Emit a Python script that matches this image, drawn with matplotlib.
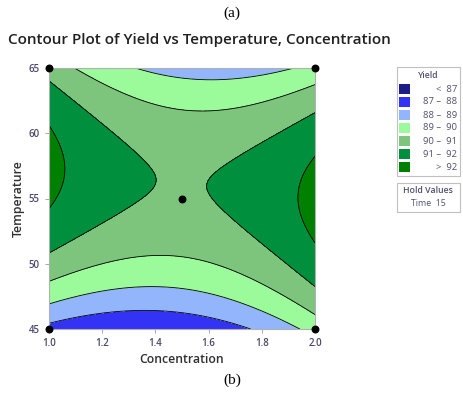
import numpy as np
import matplotlib
matplotlib.use("Agg")
import matplotlib.pyplot as plt
from matplotlib.patches import Rectangle

plt.rcParams['font.family'] = ['Open Sans', 'DejaVu Sans']

# fitted quadratic response surface (coded units)
b0, b1, b2 = 90.91, 0.10, 0.70
b11, b22, b12 = 1.32, -3.0, -0.75

conc_range = [1.0, 2.0]
temp_range = [45, 65]
levels = [80, 87, 88, 89, 90, 91, 92, 100]
colors = ['#1c1c86', '#3333f5', '#93b5fb', '#9bfb9b', '#7dc47d', '#008f3d', '#008000']
labels = ['<  87', '87 \u2013  88', '88 \u2013  89', '89 \u2013  90', '90 \u2013  91', '91 \u2013  92', '>  92']
design_conc = [1.0, 1.0, 2.0, 2.0, 1.5]
design_temp = [45, 65, 45, 65, 55]
hold_time = 15

C = np.linspace(conc_range[0], conc_range[1], 300)
T = np.linspace(temp_range[0], temp_range[1], 300)
CC, TT = np.meshgrid(C, T)
x = (CC - 1.5) / 0.5
t = (TT - 55) / 10.0
Y = b0 + b1 * x + b2 * t + b11 * x**2 + b22 * t**2 + b12 * x * t

fig = plt.figure(figsize=(4.64, 3.93), dpi=100)
ax = fig.add_axes([49 / 464, 1 - 329 / 393, 266 / 464, 261 / 393])
ax.contourf(CC, TT, Y, levels=levels, colors=colors)
ax.contour(CC, TT, Y, levels=levels[1:-1], colors='black', linewidths=0.6)
ax.scatter(design_conc, design_temp, s=22, color='black', zorder=5, clip_on=False)

ax.set_xlim(conc_range)
ax.set_ylim(temp_range)
ax.set_xticks([1.0, 1.2, 1.4, 1.6, 1.8, 2.0])
ax.set_yticks([45, 50, 55, 60, 65])
tick_col = '#4a4a6a'
ax.tick_params(labelsize=7, colors='#999999', labelcolor=tick_col, length=3, width=0.6)
for lab in ax.get_xticklabels() + ax.get_yticklabels():
    lab.set_fontweight('semibold')
for s in ax.spines.values():
    s.set_color('#b0b0b0')
    s.set_linewidth(0.8)
ax.set_xlabel('Concentration', fontsize=8.8, fontweight='semibold', color='#303030', labelpad=3)
ax.set_ylabel('Temperature', fontsize=8.8, fontweight='semibold', color='#303030', labelpad=3)

fig.text(232 / 464, 1 - 13 / 393, '(a)', family='Liberation Serif', fontsize=11, ha='center', va='center')
fig.text(232 / 464, 1 - 380 / 393, '(b)', family='Liberation Serif', fontsize=11, ha='center', va='center')
fig.text(8 / 464, 1 - 40 / 393, 'Contour Plot of Yield vs Temperature, Concentration',
         fontsize=11, fontweight='semibold', color='#202020', ha='left', va='center')

# legend box
W, H = 464, 393
def fx(px):
    return px / W
def fy(py):
    return 1 - py / H

fig.patches.append(Rectangle((fx(397), fy(176)), 63 / W, 109 / H, transform=fig.transFigure,
                             facecolor='white', edgecolor='#c0c0c0', linewidth=0.8))
fig.text(fx(428), fy(75), 'Yield', fontsize=6.3, fontweight='semibold', color='#505070', ha='center', va='center')
for i, (c, lab) in enumerate(zip(colors, labels)):
    yc = 89 + i * 13
    fig.patches.append(Rectangle((fx(399), fy(yc + 5)), 11 / W, 10 / H, transform=fig.transFigure,
                                 facecolor=c, edgecolor='none'))
    fig.text(fx(457), fy(yc), lab, fontsize=6.8, color='#505070', ha='right', va='center')

fig.patches.append(Rectangle((fx(397), fy(212)), 63 / W, 29 / H, transform=fig.transFigure,
                             facecolor='white', edgecolor='#c0c0c0', linewidth=0.8))
fig.text(fx(428), fy(191), 'Hold Values', fontsize=6.3, fontweight='semibold', color='#505070', ha='center', va='center')
fig.text(fx(428), fy(203), 'Time  %d' % hold_time, fontsize=6.3, color='#505070', ha='center', va='center')

fig.savefig('out.png', dpi=100)
